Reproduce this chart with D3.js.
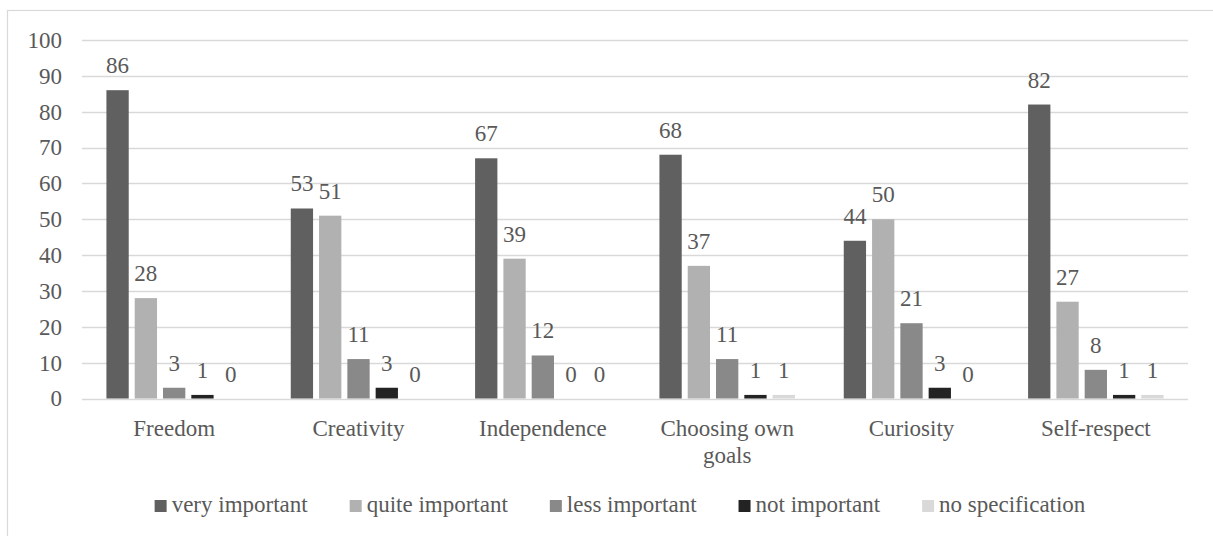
<!DOCTYPE html>
<html>
<head>
<meta charset="utf-8">
<script src="https://cdn.jsdelivr.net/npm/d3@7/dist/d3.min.js"></script>
<style>
  html, body { margin: 0; padding: 0; background: #fff; }
  svg { display: block; }
</style>
</head>
<body>
<svg id="chart" width="1213" height="536"></svg>
<script>
// Values
const categories = ["Freedom", "Creativity", "Independence", "Choosing own goals", "Curiosity", "Self-respect"];
const seriesNames = ["very important", "quite important", "less important", "not important", "no specification"];
const veryImportant  = [86, 53, 67, 68, 44, 82];
const quiteImportant = [28, 51, 39, 37, 50, 27];
const lessImportant  = [3, 11, 12, 11, 21, 8];
const notImportant   = [1, 3, 0, 1, 3, 1];
const noSpecification = [0, 0, 0, 1, 0, 1];
const yTicks = [0, 10, 20, 30, 40, 50, 60, 70, 80, 90, 100];

const seriesValues = [veryImportant, quiteImportant, lessImportant, notImportant, noSpecification];
const colors = ["#606060", "#b1b1b1", "#898989", "#232323", "#d9d9d9"];

const FONT = "Liberation Serif";
const TEXT_COLOR = "#595959";
const FS = "23px";

const svg = d3.select("#chart");
const plot = { left: 82, right: 1188, top: 40, bottom: 398.5 };

function styleText(sel) {
  return sel.style("font-family", FONT)
    .style("font-size", FS).style("fill", TEXT_COLOR);
}

// Chart frame
svg.append("rect")
  .attr("x", 7.5).attr("y", 10.5)
  .attr("width", 1240).attr("height", 560)
  .attr("fill", "none").attr("stroke", "#d9d9d9").attr("stroke-width", 1.2);

const x = d3.scaleBand().domain(categories).range([plot.left, plot.right]).padding(0);
const y = d3.scaleLinear().domain([0, 100]).range([plot.bottom, plot.top]);

const groupW = x.step() * 0.735;
const x1 = d3.scaleBand().domain(seriesNames)
  .range([0, groupW]).paddingInner(0.212).paddingOuter(0);

// Gridlines
svg.append("g").selectAll("line").data(yTicks).join("line")
  .attr("x1", plot.left).attr("x2", plot.right)
  .attr("y1", d => Math.round(y(d)) + 0.5).attr("y2", d => Math.round(y(d)) + 0.5)
  .attr("stroke", "#d9d9d9").attr("stroke-width", 1.3);

// Y axis labels
const yAxis = d3.axisLeft(y).tickValues(yTicks).tickSize(0).tickPadding(20);
const yg = svg.append("g").attr("transform", `translate(${plot.left},0)`).call(yAxis);
yg.attr("font-family", null).attr("font-size", null);
yg.select(".domain").remove();
styleText(yg.selectAll("text"));

// Bars
const groups = svg.append("g").selectAll("g").data(categories).join("g")
  .attr("transform", c => `translate(${x(c) + (x.bandwidth() - groupW) / 2},0)`);

const cellData = i => seriesNames.map((s, k) => ({ s, k, v: seriesValues[k][i] }));

groups.each(function (c, i) {
  const g = d3.select(this);
  const cells = cellData(i);
  g.selectAll("rect").data(cells).join("rect")
    .attr("x", d => x1(d.s))
    .attr("width", x1.bandwidth())
    .attr("y", d => y(d.v))
    .attr("height", d => y(0) - y(d.v))
    .attr("fill", d => colors[d.k]);
  styleText(g.selectAll("text").data(cells).join("text"))
    .attr("x", d => x1(d.s) + x1.bandwidth() / 2)
    .attr("y", d => y(d.v) - 17)
    .attr("text-anchor", "middle")
    .text(d => d.v);
});

// X axis labels (wrapped)
const xLabelLines = { "Choosing own goals": ["Choosing own", "goals"] };
styleText(svg.append("g").selectAll("text").data(categories).join("text"))
  .attr("x", c => x(c) + x.bandwidth() / 2)
  .attr("y", 436)
  .attr("text-anchor", "middle")
  .each(function (c) {
    const lines = xLabelLines[c] || [c];
    d3.select(this).selectAll("tspan").data(lines).join("tspan")
      .attr("x", x(c) + x.bandwidth() / 2)
      .attr("dy", (d, j) => j === 0 ? 0 : 27)
      .text(d => d);
  });

// Legend
const legend = svg.append("g");
const items = legend.selectAll("g").data(seriesNames).join("g");
items.append("rect").attr("width", 12).attr("height", 12).attr("y", -12)
  .attr("fill", (d, k) => colors[k]);
styleText(items.append("text")).attr("x", 17).attr("y", 0).text(d => d);
let cx = 0;
items.each(function () {
  const w = d3.select(this).select("text").node().getComputedTextLength();
  d3.select(this).attr("transform", `translate(${cx},0)`);
  cx += 17 + w + 42;
});
const totalW = cx - 42;
legend.attr("transform", `translate(${620 - totalW / 2},512)`);
</script>
</body>
</html>
